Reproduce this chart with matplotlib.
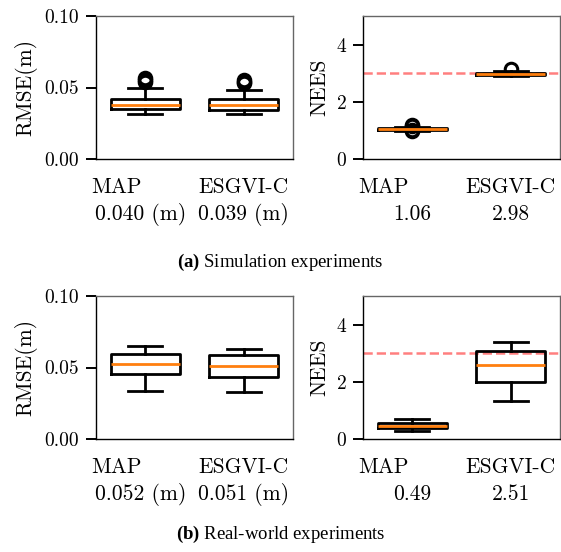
import matplotlib
matplotlib.use('Agg')
import matplotlib.pyplot as plt

plt.rcParams['mathtext.fontset'] = 'custom'
plt.rcParams['mathtext.bf'] = 'Liberation Serif:bold'
plt.rcParams['mathtext.rm'] = 'Liberation Serif'

methods = ['MAP', 'ESGVI-C']

# (a) Simulation experiments - RMSE
sim_rmse_q1 = [0.0353, 0.0345]
sim_rmse_med = [0.0378, 0.0378]
sim_rmse_q3 = [0.0423, 0.0420]
sim_rmse_lo = [0.0318, 0.0312]
sim_rmse_hi = [0.0494, 0.0483]
sim_rmse_fliers = [[0.0540, 0.0552, 0.0563], [0.0528, 0.0540, 0.0553]]
sim_rmse_means = ['0.040 (m)', '0.039 (m)']

# (a) Simulation experiments - NEES
sim_nees_q1 = [1.02, 2.93]
sim_nees_med = [1.05, 2.96]
sim_nees_q3 = [1.08, 3.00]
sim_nees_lo = [0.99, 2.90]
sim_nees_hi = [1.11, 3.06]
sim_nees_fliers = [[0.97, 1.00, 1.15, 1.18], [3.15]]
sim_nees_means = ['1.06', '2.98']

# (b) Real-world experiments - RMSE
real_rmse_q1 = [0.0455, 0.0437]
real_rmse_med = [0.0524, 0.0513]
real_rmse_q3 = [0.0594, 0.0588]
real_rmse_lo = [0.0338, 0.0327]
real_rmse_hi = [0.0650, 0.0627]
real_rmse_fliers = [[], []]
real_rmse_means = ['0.052 (m)', '0.051 (m)']

# (b) Real-world experiments - NEES
real_nees_q1 = [0.37, 2.00]
real_nees_med = [0.45, 2.58]
real_nees_q3 = [0.57, 3.08]
real_nees_lo = [0.29, 1.33]
real_nees_hi = [0.69, 3.38]
real_nees_fliers = [[], []]
real_nees_means = ['0.49', '2.51']

nees_reference = 3.0

rmse_ticks = [0.0, 0.05, 0.10]
rmse_ticklabels = ['0.00', '0.05', '0.10']
nees_ticks = [0, 2, 4]
nees_ticklabels = ['0', '2', '4']

captions = [r'$\mathbf{(a)}$ Simulation experiments',
            r'$\mathbf{(b)}$ Real-world experiments']

FONT = 'cmr10'
FS_TICK = 14
FS_LABEL = 15.5
name_dx = [-21, 0]   # horizontal offset (points) of method names


def panel(ax, q1, med, q3, lo, hi, fliers, means, ylim, ticks, ticklabels,
          ylabel, value_dx, ref=None):
    stats = []
    for i in range(len(methods)):
        stats.append(dict(q1=q1[i], med=med[i], q3=q3[i], whislo=lo[i],
                          whishi=hi[i], fliers=fliers[i], label=methods[i]))
    lw = 2.0
    ax.bxp(stats, positions=[1, 2], widths=0.7, showfliers=True,
           boxprops=dict(color='black', linewidth=lw),
           whiskerprops=dict(color='black', linewidth=lw),
           capprops=dict(color='black', linewidth=lw),
           medianprops=dict(color='#ff7f0e', linewidth=lw),
           flierprops=dict(marker='o', markerfacecolor='none',
                           markeredgecolor='black', markersize=9,
                           markeredgewidth=2.2))
    if ref is not None:
        ax.axhline(ref, color='red', alpha=0.5, linestyle='--', linewidth=1.8,
                   zorder=1)
    ax.set_xlim(0.5, 2.5)
    ax.set_ylim(*ylim)
    ax.set_yticks(ticks)
    ax.set_yticklabels(ticklabels, fontfamily=FONT, fontsize=FS_TICK)
    ax.set_xticks([])
    ax.tick_params(axis='y', length=7, width=1.4, pad=5, direction='out')
    ax.set_ylabel(ylabel, fontfamily=FONT, fontsize=FS_LABEL, labelpad=5)
    for side in ['top', 'right']:
        ax.spines[side].set_color('0.4')
        ax.spines[side].set_linewidth(1.0)
    for side in ['left', 'bottom']:
        ax.spines[side].set_color('black')
        ax.spines[side].set_linewidth(1.0)
    for i in range(len(methods)):
        ax.annotate(methods[i], xy=(i + 1, 0),
                    xycoords=('data', 'axes fraction'),
                    xytext=(name_dx[i], -24.5), textcoords='offset points',
                    ha='center', va='baseline', fontfamily=FONT,
                    fontsize=FS_LABEL)
        ax.annotate(means[i], xy=(i + 1, 0),
                    xycoords=('data', 'axes fraction'),
                    xytext=(value_dx[i], -44), textcoords='offset points',
                    ha='center', va='baseline', fontfamily=FONT,
                    fontsize=FS_LABEL)


fig = plt.figure(figsize=(5.61, 5.52), dpi=100)
W, H = 561.0, 552.0
aw, ah = 197 / W, 143 / H
ax1 = fig.add_axes([96 / W, 1 - 159 / H, aw, ah])
ax2 = fig.add_axes([363 / W, 1 - 159 / H, aw, ah])
ax3 = fig.add_axes([96 / W, 1 - 439 / H, aw, ah])
ax4 = fig.add_axes([363 / W, 1 - 439 / H, aw, ah])

panel(ax1, sim_rmse_q1, sim_rmse_med, sim_rmse_q3, sim_rmse_lo, sim_rmse_hi,
      sim_rmse_fliers, sim_rmse_means, (0, 0.10), rmse_ticks, rmse_ticklabels,
      'RMSE(m)', [-3, 0])
panel(ax2, sim_nees_q1, sim_nees_med, sim_nees_q3, sim_nees_lo, sim_nees_hi,
      sim_nees_fliers, sim_nees_means, (0, 5), nees_ticks, nees_ticklabels,
      'NEES', [0, 0], ref=nees_reference)
panel(ax3, real_rmse_q1, real_rmse_med, real_rmse_q3, real_rmse_lo, real_rmse_hi,
      real_rmse_fliers, real_rmse_means, (0, 0.10), rmse_ticks, rmse_ticklabels,
      'RMSE(m)', [-3, 0])
panel(ax4, real_nees_q1, real_nees_med, real_nees_q3, real_nees_lo, real_nees_hi,
      real_nees_fliers, real_nees_means, (0, 5), nees_ticks, nees_ticklabels,
      'NEES', [0, 0], ref=nees_reference)

fig.text(0.5, 1 - 267 / H, captions[0], ha='center', va='baseline',
         fontfamily='Liberation Serif', fontsize=13.5)
fig.text(0.5, 1 - 539 / H, captions[1], ha='center', va='baseline',
         fontfamily='Liberation Serif', fontsize=13.5)

fig.savefig('out.png', dpi=100)
